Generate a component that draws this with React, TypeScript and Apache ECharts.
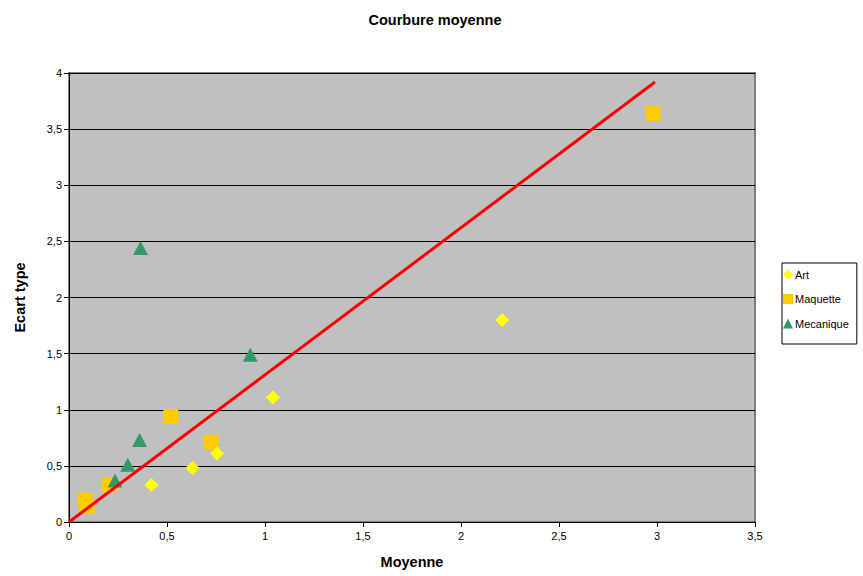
import React, { useEffect, useRef } from "react";
import * as echarts from "echarts";

const artData: number[][] = [
  [0.42, 0.33],
  [0.63, 0.48],
  [0.755, 0.61],
  [1.04, 1.11],
  [2.21, 1.8],
];
const maquetteData: number[][] = [
  [0.082, 0.196],
  [0.092, 0.14],
  [0.205, 0.33],
  [0.52, 0.94],
  [0.725, 0.71],
  [2.98, 3.64],
];
const mecaniqueData: number[][] = [
  [0.365, 2.44],
  [0.925, 1.49],
  [0.36, 0.73],
  [0.3, 0.51],
  [0.235, 0.37],
];
const trendLine: number[][] = [
  [0, 0],
  [2.99, 3.92],
];

const FONT = "Liberation Sans, Arial, sans-serif";
const fmt = (v: number) => String(v).replace(".", ",");

export default function App() {
  const ref = useRef<HTMLDivElement>(null);
  useEffect(() => {
    if (!ref.current) return;
    const chart = echarts.init(ref.current, null, { renderer: "svg" });
    chart.setOption({
      animation: false,
      backgroundColor: "#ffffff",
      textStyle: { fontFamily: FONT },
      title: {
        text: "Courbure moyenne",
        left: 430,
        top: 7,
        textAlign: "center",
        textStyle: { fontSize: 14.5, fontWeight: "bold", color: "#000", fontFamily: FONT },
      },
      legend: {
        orient: "vertical",
        left: 782,
        top: 263,
        padding: [6, 8, 15, 1],
        itemGap: 13.5,
        itemWidth: 10,
        itemHeight: 10,
        borderColor: "#000",
        borderWidth: 1,
        backgroundColor: "#fff",
        textStyle: { fontSize: 11, color: "#000", fontFamily: FONT, padding: [0, 0, 0, -3] },
        data: [
          { name: "Art", icon: "diamond" },
          { name: "Maquette", icon: "rect" },
          { name: "Mecanique", icon: "triangle" },
        ],
      },
      grid: {
        left: 69,
        top: 73,
        width: 686,
        height: 449,
        show: true,
        backgroundColor: "#c0c0c0",
        borderColor: "#808080",
        borderWidth: 2,
      },
      xAxis: {
        type: "value",
        min: 0,
        max: 3.5,
        interval: 0.5,
        name: "Moyenne",
        nameLocation: "middle",
        nameGap: 32,
        nameTextStyle: { fontSize: 14.5, fontWeight: "bold", color: "#000", fontFamily: FONT },
        axisLine: { show: true, lineStyle: { color: "#000", width: 1 } },
        axisTick: { show: true, length: 5, lineStyle: { color: "#000" } },
        axisLabel: { fontSize: 11, color: "#000", margin: 8, formatter: fmt, fontFamily: FONT },
        splitLine: { show: false },
      },
      yAxis: {
        type: "value",
        min: 0,
        max: 4,
        interval: 0.5,
        name: "Ecart type",
        nameLocation: "middle",
        nameGap: 42,
        nameRotate: 90,
        nameTextStyle: { fontSize: 14.5, fontWeight: "bold", color: "#000", fontFamily: FONT },
        axisLine: { show: true, lineStyle: { color: "#000", width: 1 } },
        axisTick: { show: true, length: 5, lineStyle: { color: "#000" } },
        axisLabel: { fontSize: 11, color: "#000", margin: 7, formatter: fmt, fontFamily: FONT },
        splitLine: { show: true, lineStyle: { color: "#000", width: 1 } },
      },
      series: [
        {
          name: "Maquette",
          type: "scatter",
          symbol: "rect",
          symbolSize: 15,
          itemStyle: { color: "#FFCC00", opacity: 1 },
          data: maquetteData,
          z: 2,
        },
        {
          name: "Art",
          type: "scatter",
          symbol: "diamond",
          symbolSize: 14,
          itemStyle: { color: "#FFFF00", opacity: 1 },
          data: artData,
          z: 3,
        },
        {
          name: "Mecanique",
          type: "scatter",
          symbol: "triangle",
          symbolSize: [15, 14],
          itemStyle: { color: "#339966", opacity: 1 },
          data: mecaniqueData,
          z: 4,
        },
        {
          name: "Tendance",
          type: "line",
          showSymbol: false,
          symbol: "none",
          lineStyle: { color: "#FF0000", width: 3 },
          data: trendLine,
          z: 5,
        },
      ],
    });
    return () => chart.dispose();
  }, []);
  return (
    <div
      ref={ref}
      style={{ position: "absolute", left: 0, top: 0, width: 863, height: 576 }}
    />
  );
}
